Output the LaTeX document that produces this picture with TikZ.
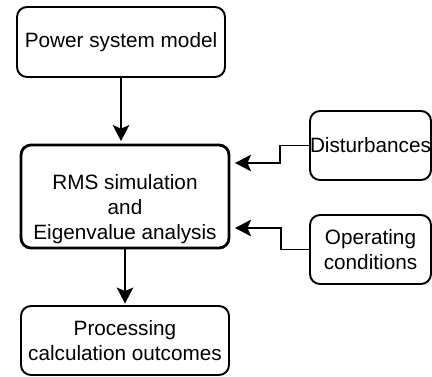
\documentclass[tikz,border=0pt]{standalone}
\usepackage{fontspec}
\setmainfont{Liberation Sans}
\usepackage{tikz}
\usetikzlibrary{positioning,calc,arrows.meta}

\begin{document}
\begin{tikzpicture}[
    box/.style={draw, line width=1.1pt, rounded corners=0.2cm, align=center, inner sep=0pt,
        font=\fontsize{11.8}{14.2}\selectfont},
    arr/.style={-{Stealth[length=0.32cm, width=0.33cm, inset=0.07cm]}, line width=1.1pt}
]
    \useasboundingbox (0,0) rectangle (8.64,7.52);
    % Blocks
    \node[box, minimum width=4.16cm, minimum height=1.4cm] (model) at (2.42,6.68) {Power system model};
    \node[box, line width=1.6pt, minimum width=4.16cm, minimum height=2.06cm] (sim) at (2.5,3.59) {};
    \node[box, draw=none] (simtext) at (2.5,3.33) {RMS simulation\\and\\Eigenvalue analysis};
    \node[box, minimum width=4.16cm, minimum height=1.38cm] (proc) at (2.5,0.71)
        {Processing\\calculation outcomes};
    \node[box, minimum width=2.42cm, minimum height=1.38cm] (dist) at (7.41,4.61) {Disturbances};
    \node[box, minimum width=2.42cm, minimum height=1.38cm] (opc) at (7.41,2.53) {Operating\\conditions};

    % Inputs
    \coordinate (distin) at (4.7,4.26);
    \coordinate (opcin) at (4.7,2.96);

    \draw[arr] (model.south) -- ([yshift=0.05cm]model.south |- sim.north);
    \draw[arr, line width=0.9pt] (sim.south) -- ([yshift=0.03cm]proc.north);
    \draw[arr] (dist.west) -- ++(-0.58,0) |- (distin);
    \draw[arr] (opc.west) -- ++(-0.56,0) |- (opcin);
\end{tikzpicture}
\end{document}
